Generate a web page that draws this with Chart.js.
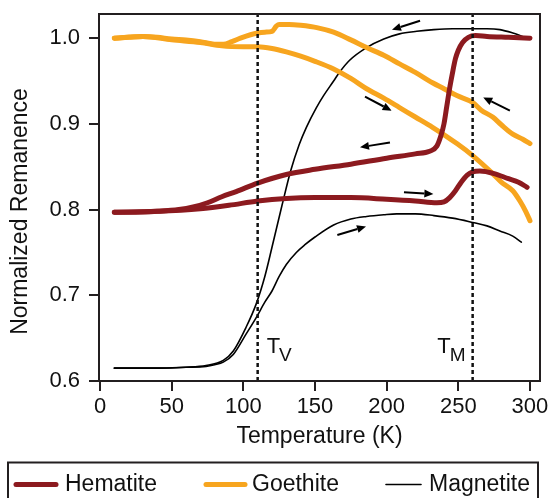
<!DOCTYPE html>
<html><head><meta charset="utf-8">
<script src="https://cdn.jsdelivr.net/npm/chart.js@4/dist/chart.umd.min.js"></script>
<style>html,body{margin:0;padding:0;background:#fff}</style>
</head><body>
<canvas id="c" width="549" height="498"></canvas>
<script>
// ---- axis ticks ----
const xTicks = [0, 50, 100, 150, 200, 250, 300];
const yTicks = [0.6, 0.7, 0.8, 0.9, 1.0];

// ---- Hematite ----
const hemCoolT = [10, 25, 40, 55, 65, 75, 85, 95, 110, 130, 150, 175, 200, 220, 230, 235, 238, 240, 242, 244, 246, 248, 250, 253, 257, 262, 270, 285, 300];
const hemCoolV = [0.797, 0.797, 0.798, 0.800, 0.803, 0.808, 0.815, 0.821, 0.831, 0.841, 0.847, 0.853, 0.860, 0.865, 0.868, 0.874, 0.887, 0.900, 0.921, 0.942, 0.960, 0.976, 0.986, 0.995, 1.001, 1.003, 1.002, 1.001, 1.000];
const hemWarmT = [10, 40, 70, 90, 110, 130, 150, 175, 200, 220, 235, 240, 244, 248, 252, 256, 260, 265, 275, 285, 292, 298];
const hemWarmV = [0.797, 0.798, 0.801, 0.805, 0.810, 0.813, 0.814, 0.814, 0.812, 0.810, 0.808, 0.809, 0.814, 0.822, 0.832, 0.840, 0.844, 0.845, 0.842, 0.836, 0.832, 0.826];

// ---- Goethite ----
const goeCoolT = [10, 20, 30, 40, 50, 60, 70, 80, 86, 92, 98, 105, 110, 115, 120, 123, 125, 132, 140, 152, 163, 175, 186, 198, 209, 220, 232, 240, 249, 260, 266, 274, 280, 288, 295, 300];
const goeCoolV = [1.000, 1.001, 1.002, 1.001, 0.999, 0.998, 0.996, 0.993, 0.993, 0.996, 1.000, 1.004, 1.006, 1.007, 1.008, 1.014, 1.016, 1.016, 1.015, 1.012, 1.007, 0.998, 0.989, 0.980, 0.970, 0.960, 0.948, 0.941, 0.933, 0.925, 0.916, 0.908, 0.899, 0.888, 0.882, 0.877];
const goeWarmT = [10, 30, 50, 70, 85, 100, 110, 120, 130, 140, 150, 163, 175, 186, 198, 209, 220, 232, 249, 260, 274, 280, 288, 293, 297, 300];
const goeWarmV = [1.000, 1.002, 0.998, 0.995, 0.991, 0.990, 0.990, 0.988, 0.984, 0.979, 0.973, 0.964, 0.953, 0.941, 0.930, 0.919, 0.908, 0.896, 0.877, 0.863, 0.842, 0.832, 0.822, 0.810, 0.798, 0.787];

// ---- Magnetite ----
const magCoolT = [10, 20, 40, 60, 74, 86, 93, 102, 109, 115, 120, 127, 133, 139, 144, 151, 156, 163, 167, 174, 186, 198, 209, 221, 233, 246, 260, 270, 279, 288, 298];
const magCoolV = [0.615, 0.615, 0.615, 0.616, 0.618, 0.624, 0.635, 0.663, 0.690, 0.722, 0.756, 0.805, 0.845, 0.876, 0.896, 0.919, 0.933, 0.950, 0.960, 0.974, 0.989, 0.999, 1.005, 1.008, 1.010, 1.011, 1.011, 1.011, 1.010, 1.006, 1.000];
const magWarmT = [10, 40, 60, 74, 80, 86, 93, 102, 109, 115, 120, 125, 130, 137, 143, 150, 163, 175, 186, 198, 207, 220, 233, 246, 260, 270, 279, 288, 294];
const magWarmV = [0.615, 0.615, 0.616, 0.617, 0.619, 0.622, 0.631, 0.655, 0.674, 0.692, 0.705, 0.722, 0.736, 0.750, 0.759, 0.768, 0.782, 0.789, 0.792, 0.794, 0.795, 0.795, 0.793, 0.790, 0.785, 0.781, 0.775, 0.769, 0.762];

// ---- transition markers ----
const markerT = [110, 260];
const markerSub = ['V', 'M'];

// ---- arrows [fromT, fromV, toT, toV] ----
const arrows = [
  [223.3, 1.0204, 203.7, 1.0099],
  [184.9, 0.9317, 203.5, 0.9154],
  [202.3, 0.8784, 181.4, 0.8726],
  [286.0, 0.9154, 267.4, 0.9309],
  [212.1, 0.8201, 232.6, 0.8182],
  [165.6, 0.7704, 185.6, 0.7804]
];

const seriesNames = ['Hematite', 'Goethite', 'Magnetite'];
const HEM = '#8c1a1f', GOE = '#f7a51f', MAG = '#000000';
const FONT = "'Liberation Sans', Arial, Helvetica, sans-serif";

function pts(T, V) { return T.map((t, i) => ({x: t, y: V[i]})); }
function ds(label, T, V, color, w, legend) {
  return {label, data: pts(T, V), borderColor: color, backgroundColor: color, borderWidth: w,
    pointRadius: 0, cubicInterpolationMode: 'monotone', fill: false, borderCapStyle: 'round', borderJoinStyle: 'round', showInLegend: legend};
}

const datasets = [
  ds(seriesNames[0], hemCoolT, hemCoolV, HEM, 5, true),
  ds(seriesNames[0], hemWarmT, hemWarmV, HEM, 5, false),
  ds(seriesNames[1], goeCoolT, goeCoolV, GOE, 5, true),
  ds(seriesNames[1], goeWarmT, goeWarmV, GOE, 5, false),
  ds(seriesNames[2], magCoolT, magCoolV, MAG, 1.6, true),
  ds(seriesNames[2], magWarmT, magWarmV, MAG, 1.6, false)
];

const overlay = {
  id: 'overlay',
  afterDatasetsDraw(chart) {
    const ctx = chart.ctx, xs = chart.scales.x, ys = chart.scales.y, ca = chart.chartArea;
    ctx.save();
    ctx.strokeStyle = '#111'; ctx.lineWidth = 2.5; ctx.setLineDash([4, 3]);
    markerT.forEach(t => {
      const px = xs.getPixelForValue(t);
      ctx.beginPath(); ctx.moveTo(px, ca.bottom); ctx.lineTo(px, ca.top); ctx.stroke();
    });
    ctx.setLineDash([]);
    ctx.fillStyle = '#111'; ctx.textBaseline = 'alphabetic';
    markerT.forEach((t, i) => {
      const px = xs.getPixelForValue(t);
      ctx.font = '22px ' + FONT; const wT = ctx.measureText('T').width;
      ctx.font = '19px ' + FONT; const wS = ctx.measureText(markerSub[i]).width;
      let x0 = i === 0 ? px + 9 : px - 6 - wT - wS;
      ctx.font = '22px ' + FONT; ctx.textAlign = 'left';
      ctx.fillText('T', x0, 353);
      ctx.font = '19px ' + FONT;
      ctx.fillText(markerSub[i], x0 + wT - 1, 361);
    });
    ctx.strokeStyle = '#000'; ctx.fillStyle = '#000'; ctx.lineWidth = 2;
    arrows.forEach(a => {
      const x1 = xs.getPixelForValue(a[0]), y1 = ys.getPixelForValue(a[1]);
      const x2 = xs.getPixelForValue(a[2]), y2 = ys.getPixelForValue(a[3]);
      const ang = Math.atan2(y2 - y1, x2 - x1), L = 9, H = 4;
      const bx = x2 - L * Math.cos(ang), by = y2 - L * Math.sin(ang);
      ctx.beginPath(); ctx.moveTo(x1, y1); ctx.lineTo(bx, by); ctx.stroke();
      ctx.beginPath(); ctx.moveTo(x2, y2);
      ctx.lineTo(bx + H * Math.sin(ang), by - H * Math.cos(ang));
      ctx.lineTo(bx - H * Math.sin(ang), by + H * Math.cos(ang));
      ctx.closePath(); ctx.fill();
    });
    ctx.restore();
  },
  afterDraw(chart) {
    const ctx = chart.ctx, ca = chart.chartArea;
    ctx.save();
    ctx.strokeStyle = '#231f20'; ctx.lineWidth = 2;
    ctx.strokeRect(ca.left, ca.top, ca.right - ca.left, ca.bottom - ca.top);
    ctx.fillStyle = '#111'; ctx.font = '23px ' + FONT;
    ctx.translate(21, 211.5); ctx.rotate(-Math.PI / 2);
    ctx.textAlign = 'center'; ctx.textBaseline = 'middle';
    ctx.fillText('Normalized Remanence', 0, 0);
    ctx.setTransform(1, 0, 0, 1, 0, 0);
    ctx.strokeStyle = '#231f20'; ctx.lineWidth = 2;
    ctx.strokeRect(8, 462.5, 530, 60);
    const items = chart.data.datasets.filter(d => d.showInLegend);
    const lx = [[16, 56, 65], [206, 245, 252], [386, 421, 429]];
    items.forEach((d, i) => {
      ctx.strokeStyle = d.borderColor; ctx.lineWidth = d.borderWidth; ctx.lineCap = 'round';
      ctx.beginPath(); ctx.moveTo(lx[i][0], 484.5); ctx.lineTo(lx[i][1], 484.5); ctx.stroke();
      ctx.fillStyle = '#111'; ctx.font = '23px ' + FONT; ctx.textAlign = 'left'; ctx.textBaseline = 'middle';
      ctx.fillText(d.label, lx[i][2], 485);
    });
    ctx.restore();
  }
};

new Chart(document.getElementById('c'), {
  type: 'line',
  data: {datasets},
  plugins: [overlay],
  options: {
    responsive: false, animation: false, devicePixelRatio: 1,
    layout: {padding: {top: 14, right: 9, bottom: 47, left: 0}},
    plugins: {legend: {display: false}, tooltip: {enabled: false}},
    scales: {
      x: {
        type: 'linear', min: -0.7, max: 307,
        afterBuildTicks: s => { s.ticks = xTicks.map(v => ({value: v})); },
        afterFit: s => { s.height = 70; s.paddingLeft = 0; s.paddingRight = 0; s.paddingTop = 0; s.paddingBottom = 0; },
        grid: {display: true, drawOnChartArea: false, drawTicks: true, tickLength: 10, color: '#231f20', lineWidth: 2},
        border: {display: true, color: '#231f20', width: 2},
        ticks: {color: '#111', font: {family: FONT, size: 22}, padding: 3, maxRotation: 0, autoSkip: false},
        title: {display: true, text: 'Temperature (K)', color: '#111', font: {family: FONT, size: 23}, padding: {top: 0, bottom: 1}}
      },
      y: {
        type: 'linear', min: 0.6, max: 1.0282,
        afterBuildTicks: s => { s.ticks = yTicks.map(v => ({value: v})); },
        afterFit: s => { s.width = 99; s.paddingTop = 0; s.paddingBottom = 0; s.paddingLeft = 0; s.paddingRight = 0; },
        grid: {display: true, drawOnChartArea: false, drawTicks: true, tickLength: 10, color: '#231f20', lineWidth: 2},
        border: {display: true, color: '#231f20', width: 2},
        ticks: {color: '#111', font: {family: FONT, size: 22}, padding: 9, callback: v => v.toFixed(1)}
      }
    }
  }
});
</script>
</body></html>
